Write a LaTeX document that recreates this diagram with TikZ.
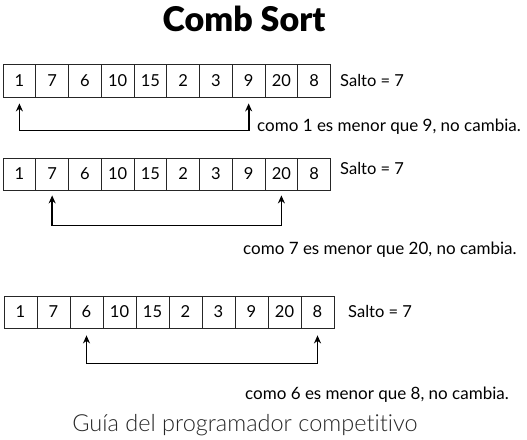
\documentclass[tikz,border=0pt]{standalone}
\usepackage{fontspec}
\setmainfont{Lato}
\newfontfamily\titulofont{Lato}[UprightFont={* Black}]
\newfontfamily\piefont{Lato}[UprightFont={* Light}, Ligatures=NoCommon]
\usetikzlibrary{arrows.meta}

\begin{document}
\begin{tikzpicture}[x=1pt, y={(0,-1pt)},
  cell/.style={shape=rectangle, draw=black!85, line width=0.8pt, minimum width=32.75pt, minimum height=33pt, inner sep=0pt, font=\fontsize{16.5}{19}\selectfont},
  salto/.style={anchor=west, inner sep=0pt, font=\fontsize{16.5}{19}\selectfont},
  nota/.style={anchor=west, inner sep=0pt, font=\fontsize{17}{20}\selectfont},
  flecha/.style={{Stealth[length=8pt, width=7pt]}-{Stealth[length=8pt, width=7pt]}, line width=1.7pt, draw=black}]
\useasboundingbox (0,0) rectangle (527,439);
\node[font=\fontsize{34}{40}\selectfont\titulofont] (titulo) at (244, 19) {Comb Sort};
% primera pasada
\node[cell] (a0) at (19.4, 80.5) {1};
\node[cell] (a1) at (52.15, 80.5) {7};
\node[cell] (a2) at (84.9, 80.5) {6};
\node[cell] (a3) at (117.65, 80.5) {10};
\node[cell] (a4) at (150.4, 80.5) {15};
\node[cell] (a5) at (183.15, 80.5) {2};
\node[cell] (a6) at (215.9, 80.5) {3};
\node[cell] (a7) at (248.65, 80.5) {9};
\node[cell] (a8) at (281.4, 80.5) {20};
\node[cell] (a9) at (314.15, 80.5) {8};
\node[salto] (sa) at (340, 80) {Salto = 7};
\node[nota] (na) at (257, 127) {como 1 es menor que 9, no cambia.};
\path[flecha, shorten <=6pt, shorten >=6pt] (a0.south) -- ++(0, 33) -| (a7.south);
% segunda pasada
\node[cell, minimum height=32pt] (b0) at (19.4, 174) {1};
\node[cell, minimum height=32pt] (b1) at (52.15, 174) {7};
\node[cell, minimum height=32pt] (b2) at (84.9, 174) {6};
\node[cell, minimum height=32pt] (b3) at (117.65, 174) {10};
\node[cell, minimum height=32pt] (b4) at (150.4, 174) {15};
\node[cell, minimum height=32pt] (b5) at (183.15, 174) {2};
\node[cell, minimum height=32pt] (b6) at (215.9, 174) {3};
\node[cell, minimum height=32pt] (b7) at (248.65, 174) {9};
\node[cell, minimum height=32pt] (b8) at (281.4, 174) {20};
\node[cell, minimum height=32pt] (b9) at (314.15, 174) {8};
\node[salto] (sb) at (340, 168) {Salto = 7};
\node[nota] (nb) at (243, 250) {como 7 es menor que 20, no cambia.};
\path[flecha, shorten <=5pt, shorten >=5pt] (b1.south) -- ++(0, 35) -| (b8.south);
% tercera pasada
\node[cell, minimum width=33pt, minimum height=32pt] (c0) at (20.5, 312) {1};
\node[cell, minimum width=33pt, minimum height=32pt] (c1) at (53.5, 312) {7};
\node[cell, minimum width=33pt, minimum height=32pt] (c2) at (86.5, 312) {6};
\node[cell, minimum width=33pt, minimum height=32pt] (c3) at (119.5, 312) {10};
\node[cell, minimum width=33pt, minimum height=32pt] (c4) at (152.5, 312) {15};
\node[cell, minimum width=33pt, minimum height=32pt] (c5) at (185.5, 312) {2};
\node[cell, minimum width=33pt, minimum height=32pt] (c6) at (218.5, 312) {3};
\node[cell, minimum width=33pt, minimum height=32pt] (c7) at (251.5, 312) {9};
\node[cell, minimum width=33pt, minimum height=32pt] (c8) at (284.5, 312) {20};
\node[cell, minimum width=33pt, minimum height=32pt] (c9) at (317.5, 312) {8};
\node[salto] (sc) at (348, 311) {Salto = 7};
\node[nota] (nc) at (245, 395) {como 6 es menor que 8, no cambia.};
\path[flecha, shorten <=7pt, shorten >=7pt] (c2.south) -- ++(0, 35) -| (c9.south);
\node[font=\fontsize{23.5}{28}\selectfont\piefont, text=black!85] (pie) at (245, 425) {Guía del programador competitivo};
\end{tikzpicture}
\end{document}
